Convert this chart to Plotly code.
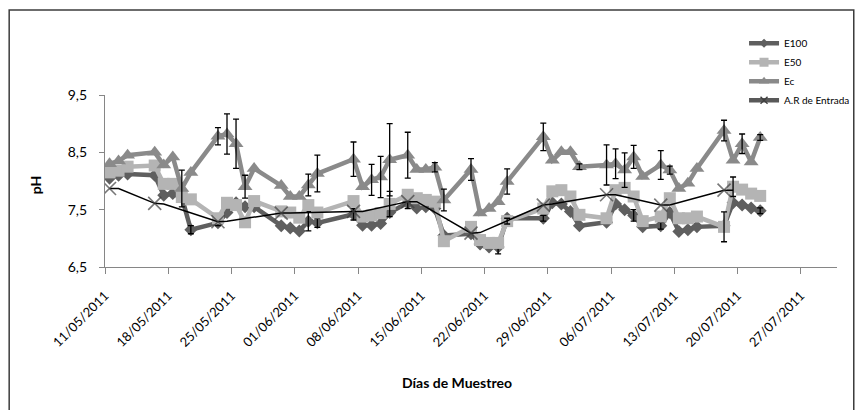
import plotly.graph_objects as go

# Sampling dates (samples taken around midday)
sample_dates = [
    "2011-05-11", "2011-05-12", "2011-05-13", "2011-05-16", "2011-05-17", "2011-05-18", "2011-05-19", "2011-05-20",
    "2011-05-23", "2011-05-24", "2011-05-25", "2011-05-26", "2011-05-27",
    "2011-05-30", "2011-05-31", "2011-06-01", "2011-06-02", "2011-06-03",
    "2011-06-07", "2011-06-08", "2011-06-09", "2011-06-10", "2011-06-11",
    "2011-06-13", "2011-06-14", "2011-06-15", "2011-06-16", "2011-06-17",
    "2011-06-20", "2011-06-21", "2011-06-22", "2011-06-23", "2011-06-24",
    "2011-06-28", "2011-06-29", "2011-06-30", "2011-07-01", "2011-07-02",
    "2011-07-05", "2011-07-06", "2011-07-07", "2011-07-08", "2011-07-09",
    "2011-07-11", "2011-07-12", "2011-07-13", "2011-07-14", "2011-07-15",
    "2011-07-18", "2011-07-19", "2011-07-20", "2011-07-21", "2011-07-22",
]
sample_time = "12:00"

ph_e100 = [
    8.05, 8.10, 8.12, 8.10, 7.75, 7.78, 7.72, 7.15,
    7.27, 7.45, 7.62, 7.55, 7.55,
    7.22, 7.18, 7.13, 7.30, 7.27,
    7.42, 7.23, 7.23, 7.26, 7.45,
    7.62, 7.53, 7.55, 7.52, 7.05,
    7.08, 6.90, 6.85, 6.85, 7.35,
    7.35, 7.62, 7.60, 7.47, 7.22,
    7.28, 7.60, 7.50, 7.40, 7.20,
    7.22, 7.45, 7.12, 7.15, 7.20,
    7.22, 7.62, 7.58, 7.53, 7.48,
]
ph_e50 = [
    8.15, 8.18, 8.25, 8.27, 7.95, 7.95, 7.72, 7.68,
    7.35, 7.62, 7.58, 7.28, 7.65,
    7.47, 7.45, 7.36, 7.58, 7.45,
    7.65, 7.38, 7.40, 7.44, 7.60,
    7.76, 7.70, 7.67, 7.64, 6.95,
    7.20, 6.97, 6.92, 6.92, 7.30,
    7.52, 7.82, 7.84, 7.73, 7.41,
    7.35, 7.84, 7.88, 7.73, 7.30,
    7.38, 7.70, 7.35, 7.35, 7.38,
    7.20, 7.90, 7.85, 7.78, 7.74,
]
ph_ec = [
    8.30, 8.35, 8.45, 8.50, 8.28, 8.42, 7.87, 8.15,
    8.78, 8.82, 8.65, 7.90, 8.22,
    7.92, 7.73, 7.73, 7.93, 8.13,
    8.38, 7.90, 8.02, 8.07, 8.37,
    8.45, 8.20, 8.20, 8.24, 7.67,
    8.20, 7.44, 7.52, 7.64, 7.99,
    8.77, 8.36, 8.51, 8.51, 8.25,
    8.28, 8.30, 8.19, 8.42, 8.08,
    8.28, 8.19, 7.87, 7.96, 8.22,
    8.88, 8.36, 8.65, 8.33, 8.76,
]

# Standard deviations (None = no error bar)
sd_e100 = [
    None, None, None, None, None, None, None, 0.07,
    0.05, None, None, None, None,
    None, None, None, 0.17, 0.08,
    0.10, None, None, None, None,
    0.10, None, None, None, None,
    None, None, None, 0.12, None,
    0.05, None, None, None, None,
    None, None, None, 0.10, None,
    0.06, None, None, None, None,
    None, None, None, None, 0.05,
]
sd_e50 = [
    None, None, None, None, None, None, None, None,
    None, None, None, None, None,
    None, None, None, None, None,
    None, None, None, None, 0.22,
    None, None, None, None, None,
    None, None, None, None, 0.05,
    None, None, None, None, None,
    None, None, None, None, None,
    None, None, None, None, None,
    0.26, 0.17, None, None, None,
]
sd_ec = [
    None, None, None, None, None, None, 0.32, None,
    0.15, 0.35, 0.43, 0.20, None,
    None, None, None, 0.19, 0.32,
    0.30, None, 0.27, 0.36, 0.63,
    0.40, None, None, 0.08, 0.19,
    0.19, None, None, None, 0.22,
    0.24, None, None, None, 0.05,
    0.35, 0.26, 0.30, 0.20, None,
    0.25, 0.07, None, None, None,
    0.18, None, 0.17, None, 0.05,
]

# Inlet wastewater (A.R de Entrada): weekly value, held to the following day
ar_dates = [
    "2011-05-11", "2011-05-12", "2011-05-16", "2011-05-17", "2011-05-23", "2011-05-24",
    "2011-05-30", "2011-05-31", "2011-06-07", "2011-06-08", "2011-06-13", "2011-06-14",
    "2011-06-20", "2011-06-21", "2011-06-28", "2011-06-29", "2011-07-05", "2011-07-06",
    "2011-07-11", "2011-07-12", "2011-07-18", "2011-07-19",
]
ar_ph = [
    7.87, 7.87, 7.61, 7.60, 7.29, 7.30,
    7.44, 7.44, 7.47, 7.47, 7.64, 7.64,
    7.09, 7.10, 7.58, 7.60, 7.76, 7.76,
    7.58, 7.58, 7.84, 7.84,
]
ar_sampled = [1, 0] * 11

tick_dates = ["2011-05-11", "2011-05-18", "2011-05-25", "2011-06-01", "2011-06-08", "2011-06-15",
              "2011-06-22", "2011-06-29", "2011-07-06", "2011-07-13", "2011-07-20", "2011-07-27"]
y_ticks = [6.5, 7.5, 8.5, 9.5]

FONT = "Lato"
x_main = [d + " " + sample_time for d in sample_dates]
x_ar = [d + " " + sample_time for d in ar_dates]

# name, values, sd, colour, symbol, marker size, legend marker size
series = [
    ("E100", ph_e100, sd_e100, "#5f5f5f", "diamond", 10, 7),
    ("E50", ph_e50, sd_e50, "#b4b4b4", "square", 12, 9),
    ("Ec", ph_ec, sd_ec, "#8a8a8a", "triangle-up", 13, 9),
]

fig = go.Figure()
for name, vals, sds, color, symbol, msize, _ in series:
    fig.add_trace(go.Scatter(
        x=x_main, y=vals, name=name, mode="lines+markers", showlegend=False,
        line=dict(color=color, width=4.5),
        marker=dict(symbol=symbol, size=msize, color=color),
    ))
    ex = [x for x, s in zip(x_main, sds) if s is not None]
    ey = [v for v, s in zip(vals, sds) if s is not None]
    es = [s for s in sds if s is not None]
    fig.add_trace(go.Scatter(
        x=ex, y=ey, mode="markers", showlegend=False, hoverinfo="skip",
        marker=dict(size=1, opacity=0),
        error_y=dict(type="data", array=es, visible=True, color="black", thickness=1.3, width=3),
    ))

fig.add_trace(go.Scatter(
    x=x_ar, y=ar_ph, mode="lines+markers", showlegend=False, name="A.R de Entrada",
    line=dict(color="black", width=1.5),
    marker=dict(symbol="x-thin", size=[13 if s else 0 for s in ar_sampled],
                color="#404040", line=dict(color="#404040", width=1.6)),
))

# legend entries
for name, _, _, color, symbol, _, lsize in series:
    fig.add_trace(go.Scatter(
        x=[None], y=[None], name=name, mode="lines+markers",
        line=dict(color=color, width=4.5),
        marker=dict(symbol=symbol, size=lsize, color=color),
    ))
fig.add_trace(go.Scatter(
    x=[None], y=[None], name="A.R de Entrada", mode="lines+markers",
    line=dict(color="#595959", width=4.5),
    marker=dict(symbol="x-thin", size=7, color="#404040", line=dict(color="#404040", width=1.4)),
))

fig.update_layout(
    template="none",
    width=867, height=410,
    margin=dict(l=105, r=21, t=95, b=143),
    paper_bgcolor="white", plot_bgcolor="white",
    separators=",.",
    font=dict(family=FONT, color="black"),
    showlegend=True,
    legend=dict(x=0.873, y=1.385, xanchor="left", yanchor="top",
                font=dict(family=FONT, size=10, color="black"),
                bgcolor="rgba(0,0,0,0)", borderwidth=0, itemwidth=30, tracegroupgap=0),
    xaxis=dict(
        type="date", range=["2011-05-11", "2011-07-31"],
        tickvals=tick_dates, tickformat="%d/%m/%Y", tickangle=-45,
        tickfont=dict(family=FONT, size=13, color="black"),
        showgrid=False, zeroline=False,
        showline=True, linecolor="#868686", linewidth=1.2,
        ticks="outside", ticklen=6, tickcolor="#868686", tickwidth=1.2,
        ticklabelstandoff=9,
    ),
    yaxis=dict(
        range=[6.5, 9.5], tickvals=y_ticks, tickformat=".1f",
        tickfont=dict(family=FONT, size=14, color="black"),
        showgrid=False, zeroline=False,
        showline=True, linecolor="#868686", linewidth=1.2,
        ticks="outside", ticklen=5, tickcolor="#868686", tickwidth=1.2,
        ticklabelstandoff=9,
    ),
    annotations=[
        dict(text="<b>Días de Muestreo</b>", xref="paper", yref="paper",
             x=0.4804, y=-0.674, xanchor="center", yanchor="middle", showarrow=False,
             font=dict(family=FONT, size=14, color="black")),
        dict(text="<b>pH</b>", xref="paper", yref="paper", textangle=-90,
             x=-0.094, y=0.477, xanchor="center", yanchor="middle", showarrow=False,
             font=dict(family=FONT, size=14, color="black")),
    ],
    shapes=[
        dict(type="rect", xref="paper", yref="paper",
             x0=-0.1309, x1=1.0229, y0=-0.95, y1=1.494,
             line=dict(color="#3c3c3c", width=1.5), fillcolor="rgba(0,0,0,0)", layer="below"),
    ],
)

fig.write_html("out.html")
